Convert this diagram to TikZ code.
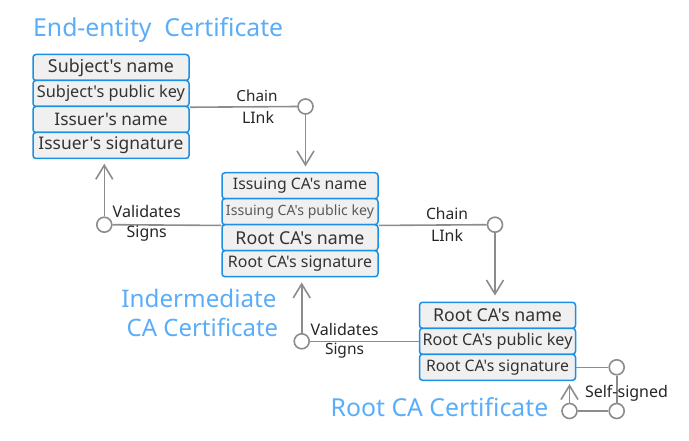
\documentclass[tikz,border=0pt]{standalone}
\usepackage{fontspec}
\setmainfont{Noto Sans}[Ligatures=TeXOff]
\usepackage{graphicx}
\usetikzlibrary{arrows.meta}
\definecolor{titleblue}{HTML}{5AADF8}
\definecolor{boxblue}{HTML}{1A8FE3}
\definecolor{rowgray}{HTML}{F0F0F0}
\definecolor{rowtext}{HTML}{333333}
\definecolor{linegray}{HTML}{8C8C8C}
\newcommand{\fw}[2]{\resizebox{#1pt}{!}{#2}}
\begin{document}
\begin{tikzpicture}[x=1pt,y=-1pt,
  row/.style={rectangle,rounded corners=3pt,draw=boxblue,line width=1.5pt,fill=rowgray,
    minimum width=156pt,minimum height=26pt,inner sep=0pt,text=rowtext},
  circ/.style={circle,draw=linegray,line width=1.6pt,fill=white,minimum size=15pt,inner sep=0pt},
  conn/.style={draw=linegray,line width=1.6pt},
  arr/.style={conn,-{Straight Barb[length=14pt,width=17pt,line width=1.6pt]}},
  lbl/.style={inner sep=0pt,text=black!85},
  ttl/.style={inner sep=0pt,text=titleblue}]
\useasboundingbox (0,0) rectangle (689,441);
% titles
\node[ttl,anchor=west] (t1) at (33,30) {\fw{250}{End-entity\ \ Certificate}};
\node[ttl] (t2) at (199,298) {\fw{155}{Indermediate}};
\node[ttl] (t3) at (202.5,327) {\fw{151.5}{CA Certificate}};
\node[ttl] (t4) at (439.5,407) {\fw{217.5}{Root CA Certificate}};
% end-entity
\node[row] (ee1) at (111,67.5) {\fw{126}{Subject's name}};
\node[row] (ee2) at (111,93.5) {\fw{148}{Subject's public key}};
\node[row] (ee3) at (111,119.5) {\fw{113}{Issuer's name}};
\node[row] (ee4) at (111,145.5) {\fw{145}{Issuer's signature}};
% intermediate
\node[row] (im1) at (300,185.7) {\fw{134}{Issuing CA's name}};
\node[row] (im2) at (300,211.7) {\fw{148}{\color{black!65}Issuing CA's public key}};
\node[row] (im3) at (300,237.7) {\fw{129}{Root CA's name}};
\node[row] (im4) at (300,263.7) {\fw{144}{Root CA's signature}};
% root
\node[row] (rt1) at (497.5,315.3) {\fw{129}{Root CA's name}};
\node[row] (rt2) at (497.5,341.3) {\fw{150}{Root CA's public key}};
\node[row] (rt3) at (497.5,367.3) {\fw{143}{Root CA's signature}};
% circles
\node[circ] (c1) at (305.5,106.5) {};
\node[circ] (c2) at (495,224.7) {};
\node[circ] (v1) at (104.3,224.7) {};
\node[circ] (v2) at (301.7,341.3) {};
\node[circ] (s1) at (616.7,367.3) {};
\node[circ] (s2) at (616.7,411) {};
\node[circ] (s3) at (569.5,411) {};
% connectors
\draw[conn] (ee2.south east) -- (c1.west);
\draw[arr,shorten >=5.5pt] (c1.south) -- (im1.north -| c1);
\draw[conn] (im2.south east) -- (c2.west);
\draw[arr,shorten >=6pt] (c2.south) -- (rt1.north -| c2);
\draw[conn] (v1.east) -- (im2.south west);
\draw[arr,shorten >=4.5pt] (v1.north) -- (ee4.south -| v1);
\draw[conn] (v2.east) -- (rt2.west);
\draw[arr,shorten >=5pt] (v2.north) -- (im4.south -| v2);
\draw[conn] (rt3.east) -- (s1.west);
\draw[conn] (s1.south) -- (s2.north);
\draw[conn] (s2.west) -- (s3.east);
\draw[arr,shorten >=3pt] (s3.north) -- (rt3.south -| s3);
% labels
\node[lbl] (l1) at (257,96) {\fw{41}{Chain}};
\node[lbl] (l2) at (258,117.7) {\fw{32}{LInk}};
\node[lbl] (l3) at (447,213.3) {\fw{42}{Chain}};
\node[lbl] (l4) at (447,235) {\fw{32}{LInk}};
\node[lbl] (l5) at (146.7,211.7) {\fw{68}{Validates}};
\node[lbl] (l6) at (146.7,233.3) {\fw{40}{Signs}};
\node[lbl] (l7) at (344.5,329.3) {\fw{68}{Validates}};
\node[lbl] (l8) at (344.5,350.7) {\fw{39}{Signs}};
\node[lbl] (l9) at (626.5,393) {\fw{83}{Self-signed}};
\end{tikzpicture}
\end{document}
